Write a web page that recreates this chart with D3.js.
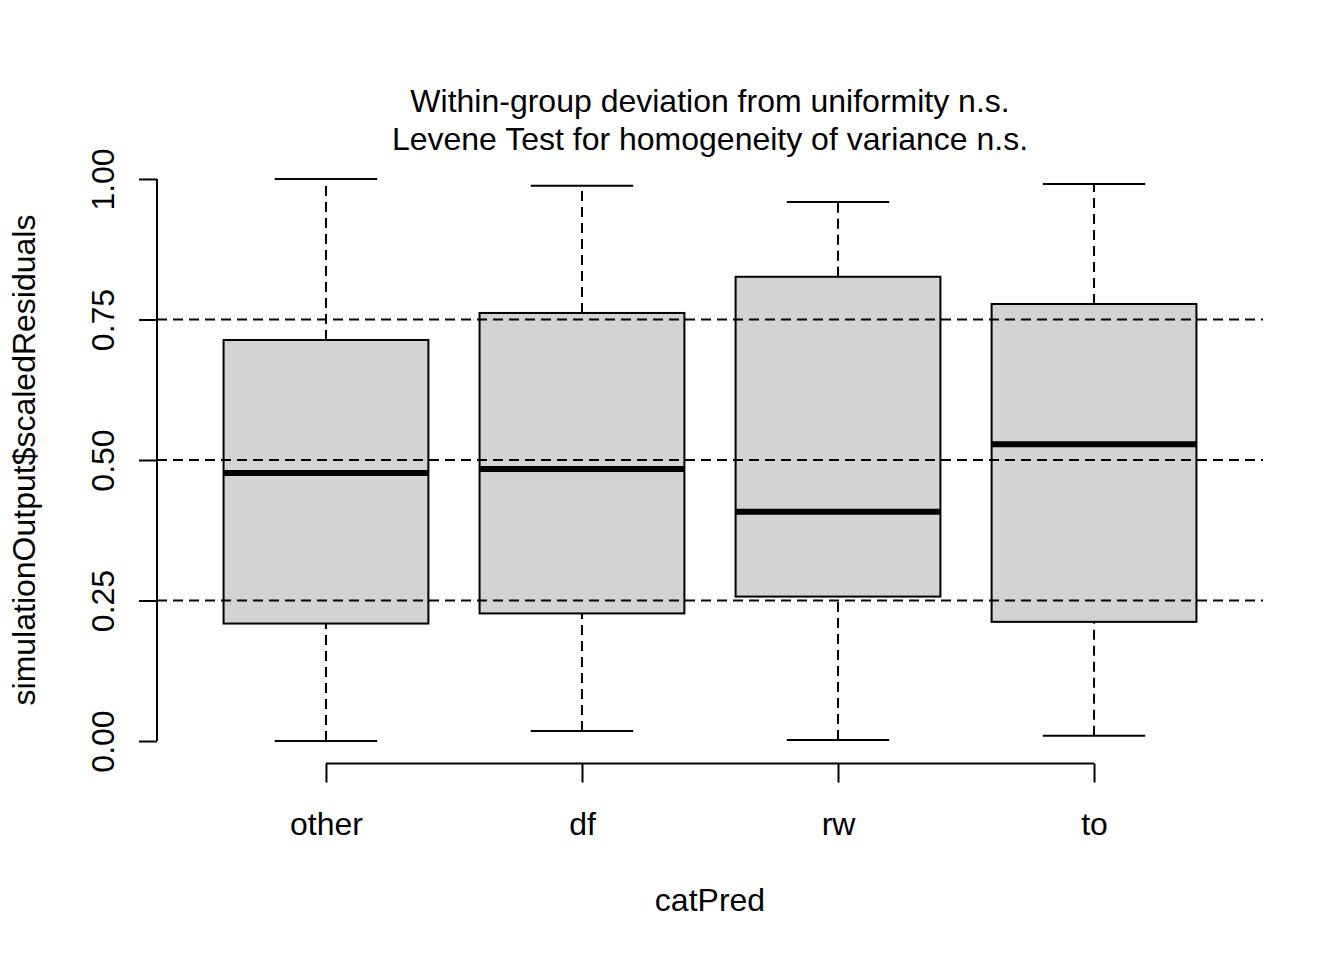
<!DOCTYPE html>
<html><head><meta charset="utf-8">
<script src="https://cdn.jsdelivr.net/npm/d3@7"></script>
<style>body{margin:0;background:#fff}svg{display:block}text{font-family:"Liberation Sans",Arial,sans-serif;fill:#000}</style>
</head><body><svg id="c" width="1344" height="960"></svg>
<script>
const categories = ["other", "df", "rw", "to"];
const whiskerLow = [0.000, 0.018, 0.002, 0.0095];
const q1 = [0.209, 0.227, 0.257, 0.212];
const medians = [0.477, 0.484, 0.408, 0.528];
const q3 = [0.7135, 0.7616, 0.826, 0.7776];
const whiskerHigh = [1.000, 0.988, 0.959, 0.991];
const yTicks = [0, 0.25, 0.5, 0.75, 1.0];
const gridLines = [0.25, 0.5, 0.75];
const titleLines = ["Within-group deviation from uniformity n.s.", "Levene Test for homogeneity of variance n.s."];

const svg = d3.select("#c");
const L = 157, R = 1263, T = 156.5, B = 763.5;
const x = d3.scaleLinear().domain([0.34, 4.66]).range([L, R]);
const y = d3.scaleLinear().domain([-0.04, 1.04]).range([B, T]);
const dash = "10,6";
const FS = 32;
const data = categories.map((c, i) => ({c, i: i + 1, lo: whiskerLow[i], q1: q1[i], med: medians[i], q3: q3[i], hi: whiskerHigh[i]}));
const bw = 0.4, sw = 0.2;

const g = svg.append("g").selectAll("g").data(data).join("g");
// whiskers
g.append("line").attr("x1", d => x(d.i)).attr("x2", d => x(d.i)).attr("y1", d => y(d.lo)).attr("y2", d => y(d.q1))
  .attr("stroke", "#000").attr("stroke-width", 2).attr("stroke-dasharray", dash);
g.append("line").attr("x1", d => x(d.i)).attr("x2", d => x(d.i)).attr("y1", d => y(d.q3)).attr("y2", d => y(d.hi))
  .attr("stroke", "#000").attr("stroke-width", 2).attr("stroke-dasharray", dash);
// staples
g.append("line").attr("x1", d => x(d.i - sw)).attr("x2", d => x(d.i + sw)).attr("y1", d => y(d.lo)).attr("y2", d => y(d.lo))
  .attr("stroke", "#000").attr("stroke-width", 2);
g.append("line").attr("x1", d => x(d.i - sw)).attr("x2", d => x(d.i + sw)).attr("y1", d => y(d.hi)).attr("y2", d => y(d.hi))
  .attr("stroke", "#000").attr("stroke-width", 2);
// box
g.append("rect").attr("x", d => x(d.i - bw)).attr("width", d => x(d.i + bw) - x(d.i - bw))
  .attr("y", d => y(d.q3)).attr("height", d => y(d.q1) - y(d.q3))
  .attr("fill", "#d3d3d3").attr("stroke", "#000").attr("stroke-width", 2);
// median
g.append("line").attr("x1", d => x(d.i - bw)).attr("x2", d => x(d.i + bw)).attr("y1", d => y(d.med)).attr("y2", d => y(d.med))
  .attr("stroke", "#000").attr("stroke-width", 6);

// gridlines over boxes (abline after plot)
svg.append("g").selectAll("line").data(gridLines).join("line")
  .attr("x1", L).attr("x2", R).attr("y1", d => y(d)).attr("y2", d => y(d))
  .attr("stroke", "#000").attr("stroke-width", 2).attr("stroke-dasharray", dash);

// y axis
const ya = svg.append("g").attr("transform", `translate(${L},0)`)
  .call(d3.axisLeft(y).tickValues(yTicks).tickFormat(d3.format(".2f")).tickSize(18).tickPadding(0));
ya.select(".domain").attr("d", `M0,${y(0)}V${y(1)}`).attr("stroke-width", 2);
ya.selectAll(".tick line").attr("stroke-width", 2);
ya.selectAll(".tick text").attr("font-size", FS).attr("text-anchor", "middle")
  .attr("transform", "rotate(-90)").attr("x", 0).attr("y", -43).attr("dy", 0);
ya.attr("font-family", null);

// x axis
const xa = svg.append("g").attr("transform", `translate(0,${B})`)
  .call(d3.axisBottom(x).tickValues(data.map(d => d.i)).tickFormat(d => categories[d - 1]).tickSize(19).tickPadding(0));
xa.select(".domain").attr("d", `M${x(1)},0H${x(4)}`).attr("stroke-width", 2);
xa.selectAll(".tick line").attr("stroke-width", 2);
xa.selectAll(".tick text").attr("font-size", FS).attr("y", 71).attr("dy", 0);
xa.attr("font-family", null);

// titles
svg.append("g").selectAll("text").data(titleLines).join("text")
  .attr("x", (L + R) / 2).attr("y", (d, i) => 112 + i * 38).attr("text-anchor", "middle").attr("font-size", FS).text(d => d);
svg.append("text").attr("x", (L + R) / 2).attr("y", 911).attr("text-anchor", "middle").attr("font-size", FS).text("catPred");
svg.append("text").attr("transform", `translate(35,${(T + B) / 2}) rotate(-90)`).attr("text-anchor", "middle").attr("font-size", FS)
  .text("simulationOutput$scaledResiduals");
</script></body></html>
